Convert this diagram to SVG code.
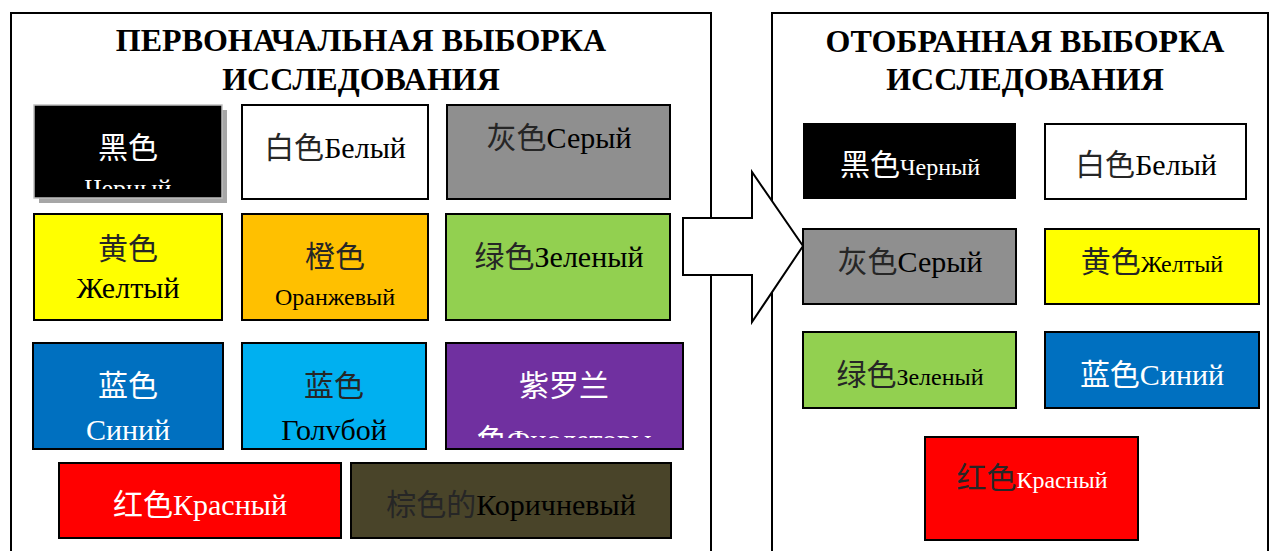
<svg xmlns="http://www.w3.org/2000/svg" width="1270" height="551" viewBox="0 0 1270 551">
<style>
.panel{fill:#fff;stroke:#000;stroke-width:2}
.box{stroke:#000;stroke-width:2}
.title{font-family:"Liberation Serif","Noto Sans CJK SC",serif;font-weight:bold;font-size:32px;text-anchor:middle;fill:#000}
.t{font-family:"Liberation Serif","Noto Sans CJK SC",serif;font-size:30px;text-anchor:middle}
.s{font-size:24px}
.w{fill:#fff}
.k{fill:#000}
.d{fill:#262626}
</style>
<defs>
<clipPath id="cBlack"><rect x="34" y="105" width="188" height="84"/></clipPath>
<clipPath id="cPurple"><rect x="446" y="343" width="237" height="95"/></clipPath>
</defs>
<g id="panel-left">
<rect class="panel" x="11" y="13" width="700" height="560"/>
<text class="title" x="361" y="51">ПЕРВОНАЧАЛЬНАЯ ВЫБОРКА</text>
<text class="title" x="361" y="90">ИССЛЕДОВАНИЯ</text>
</g>
<g id="panel-right">
<rect class="panel" x="772" y="13" width="496" height="560"/>
<text class="title" x="1025" y="52">ОТОБРАННАЯ ВЫБОРКА</text>
<text class="title" x="1025" y="90">ИССЛЕДОВАНИЯ</text>
</g>
<g id="connectors">
<polygon points="683,218 752,218 752,172 803,246 752,322 752,275 683,275" fill="#fff" stroke="#000" stroke-width="2"/>
</g>
<g id="l-black">
<rect x="39" y="110" width="188" height="93" fill="#a6a6a6"/>
<rect x="34" y="105" width="188" height="93" fill="#000" stroke="#bfbfbf" stroke-width="1.5"/>
<g clip-path="url(#cBlack)">
<text class="t w" x="128" y="158">黑色</text>
<text class="t w" x="128" y="197" style="font-size:26px">Черный</text>
</g>
</g>
<g id="l-white">
<rect class="box" x="242" y="105" width="186" height="94" fill="#fff"/>
<text class="t k" x="335" y="158"><tspan class="d">白色</tspan>Белый</text>
</g>
<g id="l-gray">
<rect class="box" x="447" y="105" width="223" height="94" fill="#8f8f8f"/>
<text class="t k" x="559" y="148"><tspan class="d">灰色</tspan>Серый</text>
</g>
<g id="l-yellow">
<rect class="box" x="34" y="214" width="188" height="106" fill="#ffff00"/>
<text class="t k" x="128" y="259"><tspan class="d">黄色</tspan></text>
<text class="t k" x="128" y="298">Желтый</text>
</g>
<g id="l-orange">
<rect class="box" x="242" y="214" width="186" height="106" fill="#ffc000"/>
<text class="t d" x="335" y="267">橙色</text>
<text class="t k s" x="335" y="305">Оранжевый</text>
</g>
<g id="l-green">
<rect class="box" x="446" y="214" width="224" height="106" fill="#92d050"/>
<text class="t k" x="559" y="267"><tspan class="d">绿色</tspan>Зеленый</text>
</g>
<g id="l-blue">
<rect class="box" x="33" y="343" width="190" height="106" fill="#0070c0"/>
<text class="t w" x="128" y="396">蓝色</text>
<text class="t w" x="128" y="440">Синий</text>
</g>
<g id="l-lightblue">
<rect class="box" x="242" y="343" width="184" height="106" fill="#00b0f0"/>
<text class="t d" x="334" y="396">蓝色</text>
<text class="t k" x="334" y="440">Голvбой</text>
</g>
<g id="l-purple">
<rect class="box" x="446" y="343" width="237" height="106" fill="#7030a0"/>
<g clip-path="url(#cPurple)">
<text class="t w" x="564" y="396">紫罗兰</text>
<text class="t w" x="564" y="450">色Фиолетовы</text>
</g>
</g>
<g id="l-red">
<rect class="box" x="59" y="463" width="282" height="75" fill="#ff0000"/>
<text class="t w" x="200" y="515">红色Красный</text>
</g>
<g id="l-brown">
<rect class="box" x="351" y="463" width="320" height="75" fill="#494429"/>
<text class="t k" x="511" y="515"><tspan class="d">棕色的</tspan>Коричневый</text>
</g>
<g id="r-black">
<rect x="803" y="123" width="213" height="76" fill="#000"/>
<text class="t w" x="910" y="175">黑色<tspan class="s">Черный</tspan></text>
</g>
<g id="r-white">
<rect class="box" x="1045" y="124" width="201" height="75" fill="#fff"/>
<text class="t k" x="1146" y="175"><tspan class="d">白色</tspan>Белый</text>
</g>
<g id="r-gray">
<rect class="box" x="803" y="229" width="213" height="75" fill="#8f8f8f"/>
<text class="t k" x="910" y="272"><tspan class="d">灰色</tspan>Серый</text>
</g>
<g id="r-yellow">
<rect class="box" x="1045" y="229" width="214" height="75" fill="#ffff00"/>
<text class="t k" x="1152" y="272"><tspan class="d">黄色</tspan><tspan class="s">Желтый</tspan></text>
</g>
<g id="r-green">
<rect class="box" x="803" y="332" width="213" height="76" fill="#92d050"/>
<text class="t k" x="910" y="385"><tspan class="d">绿色</tspan><tspan class="s">Зеленый</tspan></text>
</g>
<g id="r-blue">
<rect class="box" x="1045" y="332" width="214" height="76" fill="#0070c0"/>
<text class="t w" x="1152" y="385">蓝色Синий</text>
</g>
<g id="r-red">
<rect class="box" x="925" y="437" width="213" height="103" fill="#ff0000"/>
<text class="t w" x="1032" y="488"><tspan class="d">红色</tspan><tspan class="s">Красный</tspan></text>
</g>
</svg>
